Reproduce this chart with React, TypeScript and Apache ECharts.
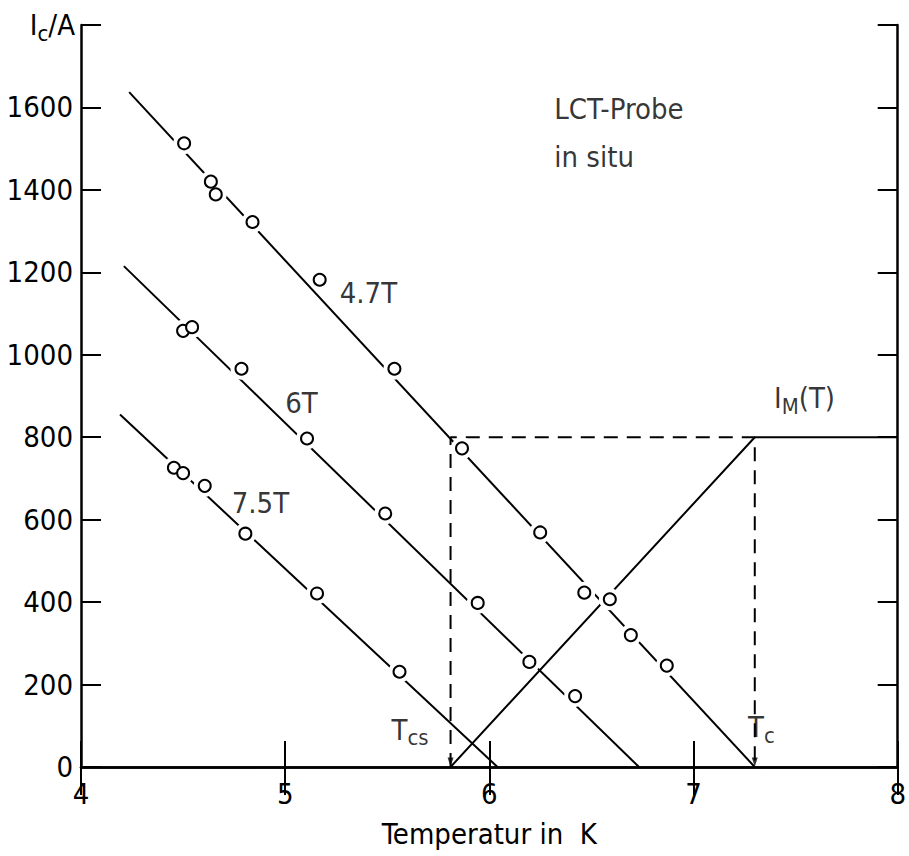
import React, { useEffect, useRef } from "react";
import * as echarts from "echarts";

// ---- data (temperature in K, critical current in A) ----
const xTicks = [4, 5, 6, 7, 8];
const yTickStep = 200;
const TCS = 5.81;
const TC = 7.3;
const IM_PLATEAU = 800;

const pts47: [number, number][] = [
  [4.505, 1513], [4.636, 1420], [4.66, 1389], [4.84, 1322], [5.169, 1182],
  [5.535, 966], [5.866, 773], [6.249, 569], [6.465, 423], [6.59, 407],
  [6.693, 320], [6.869, 246],
];
const pts6: [number, number][] = [
  [4.5, 1058], [4.544, 1067], [4.786, 966], [5.107, 797], [5.49, 615],
  [5.943, 398], [6.196, 255], [6.42, 172],
];
const pts75: [number, number][] = [
  [4.455, 726], [4.5, 713], [4.606, 682], [4.805, 566], [5.156, 421],
  [5.56, 231],
];

const fit47: [number, number][] = [[4.236, 1637], [TC, 0]];
const fit6: [number, number][] = [[4.21, 1215], [6.733, 0]];
const fit75: [number, number][] = [[4.191, 855], [6.04, 0]];
const imLine: [number, number][] = [[TCS, 0], [TC, IM_PLATEAU], [8, IM_PLATEAU]];
const guideLine: [number, number][] = [[TCS, 0], [TCS, IM_PLATEAU], [TC, IM_PLATEAU], [TC, 0]];

// annotations: [x, y, text]
const notes: [number, number, string][] = [
  [5.267, 1149, "4.7T"],
  [5.0, 882, "6T"],
  [4.738, 640, "7.5T"],
  [6.318, 1597, "LCT-Probe"],
  [6.318, 1479, "in situ"],
  [7.394, 895, "{m|I}{s|M}{m|(T)}"],
  [5.521, 90, "{m|T}{s|cs}"],
  [7.267, 97, "{m|T}{s|c}"],
];

const FONT = "'Liberation Sans Narrow', 'DejaVu Sans Condensed', 'Liberation Sans', sans-serif";
const FS = 29;

export default function App() {
  const ref = useRef<HTMLDivElement>(null);
  useEffect(() => {
    if (!ref.current) return;
    const chart = echarts.init(ref.current, undefined, { renderer: "svg" });
    const black = "#000";
    const lineSeries = (data: [number, number][], dashed = false) => ({
      type: "line",
      data,
      symbol: "none",
      silent: true,
      z: 2,
      lineStyle: { color: black, width: 2, type: dashed ? [14, 9] : "solid" },
    });
    const allPts = [...pts47, ...pts6, ...pts75];
    const rich = {
      m: { fontSize: FS, fontFamily: FONT, color: black },
      s: { fontSize: 22, fontFamily: FONT, color: black, padding: [16, 0, 0, 0] },
    };
    const axisCommon = {
      axisLine: { show: true, lineStyle: { color: black, width: 2.5 } },
      splitLine: { show: false },
    };
    chart.setOption({
      animation: false,
      backgroundColor: "#fff",
      grid: { left: 81, right: 10, top: 25, bottom: 89, containLabel: false },
      xAxis: [
        {
          type: "value",
          min: xTicks[0],
          max: xTicks[xTicks.length - 1],
          interval: 1,
          position: "bottom",
          ...axisCommon,
          axisTick: { show: true, inside: true, length: 26, lineStyle: { color: black, width: 2 } },
          axisLabel: { fontSize: FS, fontFamily: FONT, color: black, margin: 12 },
          name: "Temperatur in  K",
          nameLocation: "middle",
          nameGap: 52,
          nameTextStyle: { fontSize: FS, fontFamily: FONT, color: black },
        },
        {
          type: "value",
          min: xTicks[0],
          max: xTicks[xTicks.length - 1],
          interval: 1,
          position: "top",
          ...axisCommon,
          axisTick: { show: true, inside: true, length: 28, lineStyle: { color: black, width: 2 } },
          axisLabel: { show: false },
        },
      ],
      yAxis: [
        {
          type: "value",
          min: 0,
          max: 1800,
          interval: yTickStep,
          position: "left",
          ...axisCommon,
          axisTick: { show: true, inside: true, length: 20, lineStyle: { color: black, width: 2 } },
          axisLabel: {
            fontSize: FS,
            fontFamily: FONT,
            color: black,
            margin: 8,
            formatter: (v: number) => (v >= 1800 ? "" : String(v)),
          },
          name: "{m|I}{s|c}{m|/A}",
          nameLocation: "end",
          nameGap: 0,
          nameTextStyle: { align: "right", verticalAlign: "middle", padding: [0, 6, 0, 0], rich },
        },
        {
          type: "value",
          min: 0,
          max: 1800,
          interval: yTickStep,
          position: "right",
          ...axisCommon,
          axisTick: { show: true, inside: true, length: 20, lineStyle: { color: black, width: 2 } },
          axisLabel: { show: false },
        },
      ],
      series: [
        lineSeries(fit47),
        lineSeries(fit6),
        lineSeries(fit75),
        lineSeries(imLine),
        lineSeries(guideLine, true),
        {
          type: "scatter",
          data: [[TCS, 0], [TC, 0]],
          symbol: "triangle",
          symbolRotate: 180,
          symbolSize: [6, 9],
          symbolOffset: [0, -5],
          itemStyle: { color: black },
          silent: true,
          z: 3,
        },
        {
          type: "scatter",
          data: allPts,
          symbol: "circle",
          symbolSize: 22,
          itemStyle: { color: "#fff", opacity: 1 },
          silent: true,
          z: 3,
        },
        {
          type: "scatter",
          data: allPts,
          symbol: "circle",
          symbolSize: 12,
          itemStyle: { color: "#fff", borderColor: black, borderWidth: 2, opacity: 1 },
          silent: true,
          z: 4,
        },
        {
          type: "scatter",
          data: notes.map((n) => [n[0], n[1], n[2]]),
          symbolSize: 0,
          silent: true,
          z: 5,
          label: {
            show: true,
            position: "right",
            distance: 0,
            fontSize: FS,
            fontFamily: FONT,
            color: black,
            formatter: (p: any) => p.value[2],
            rich,
          },
        },
      ],
    });
    return () => chart.dispose();
  }, []);
  return (
    <div
      ref={ref}
      style={{ position: "fixed", left: 0, top: 0, width: 909, height: 856, background: "#fff" }}
    />
  );
}
